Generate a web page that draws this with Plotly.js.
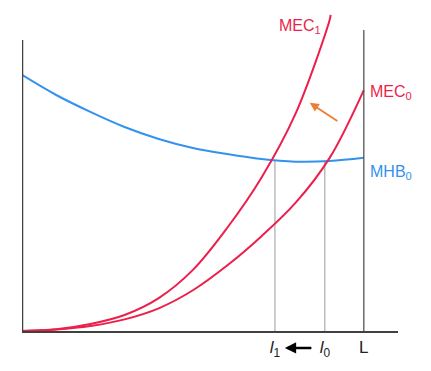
<!DOCTYPE html>
<html><head><meta charset="utf-8">
<script src="https://cdn.plot.ly/plotly-3.0.1.min.js"></script>
<style>html,body{margin:0;padding:0;background:#fff}#c{width:431px;height:371px}</style>
</head><body><div id="c"></div>
<script>
// quantity l (L = 10)
const xGrid = [0,1,2,3,4,5,6,7,8,9,10];
const mhb0 = [8.80,8.11,7.53,7.01,6.60,6.29,6.08,5.91,5.82,5.84,5.95];
const mec0 = [0,0.05,0.17,0.40,0.78,1.40,2.25,3.25,4.40,5.95,8.28];
const xMec1 = [0,1,2,3,4,5,6,7,8,9,9.03];
const mec1 = [0,0.06,0.24,0.55,1.13,2.10,3.54,5.26,7.46,10.69,10.86];
const lVals = [7.4, 8.86, 10];          // l1, l0, L
const lHeights = [5.88, 5.84, 10.34];   // drop-line tops
const tickLabels = ['<i>l</i><sub>1</sub>', '<i>l</i><sub>0</sub>', 'L'];

const red = '#EC1F4B', blue = '#3392EE';
const traces = [
  {x:xGrid, y:mhb0, mode:'lines', line:{color:blue,width:2,shape:'spline'}, hoverinfo:'skip'},
  {x:xGrid, y:mec0, mode:'lines', line:{color:red,width:2,shape:'spline'}, hoverinfo:'skip'},
  {x:xMec1, y:mec1, mode:'lines', line:{color:red,width:2,shape:'spline'}, hoverinfo:'skip'}
];
const shapes = [
  {type:'line', x0:0, x1:0, y0:0, y1:10, line:{color:'#404040',width:2.5}},
  {type:'line', x0:lVals[2], x1:lVals[2], y0:0, y1:lHeights[2], line:{color:'#555',width:1.3}},
  {type:'line', x0:lVals[0], x1:lVals[0], y0:0, y1:lHeights[0], line:{color:'#999',width:1}, layer:'below'},
  {type:'line', x0:lVals[1], x1:lVals[1], y0:0, y1:lHeights[1], line:{color:'#999',width:1}, layer:'below'}
];
const F = 'Liberation Sans, Arial, sans-serif';
const annotations = [
  {x:7.46, y:10.45, text:'MEC<sub>1</sub>', showarrow:false, xanchor:'left', font:{family:F,size:16,color:red}},
  {x:10.12, y:8.18, text:'MEC<sub>0</sub>', showarrow:false, xanchor:'left', font:{family:F,size:16,color:red}},
  {x:10.12, y:5.46, text:'MHB<sub>0</sub>', showarrow:false, xanchor:'left', font:{family:F,size:16,color:blue}},
  {x:11.35, y:0.14, text:'<i>l</i>', showarrow:false, font:{family:F,size:18,color:'#222'}},
  {x:7.69, y:-0.052, xref:'x', yref:'paper', ax:28, ay:0, text:'', showarrow:true, arrowhead:2, arrowsize:0.9, arrowwidth:2.5, arrowcolor:'#000'},
  {x:8.42, y:7.84, ax:9.27, ay:7.18, axref:'x', ayref:'y', text:'', showarrow:true, arrowhead:2, arrowsize:1, arrowwidth:1.8, arrowcolor:'#ED7D31'}
];
const layout = {
  width:431, height:371, margin:{l:22,r:33,t:5,b:40},
  paper_bgcolor:'#fff', plot_bgcolor:'#fff', showlegend:false,
  xaxis:{range:[0,11], showgrid:false, zeroline:false, showline:true, linecolor:'#404040', linewidth:2,
    tickvals:lVals, ticktext:tickLabels, ticks:'', tickfont:{family:F,size:17,color:'#222'}, fixedrange:true},
  yaxis:{range:[0,11.203], showgrid:false, zeroline:false, showline:false, showticklabels:false, ticks:'', fixedrange:true},
  shapes:shapes, annotations:annotations
};
Plotly.newPlot('c', traces, layout, {staticPlot:true, displayModeBar:false});
</script></body></html>
